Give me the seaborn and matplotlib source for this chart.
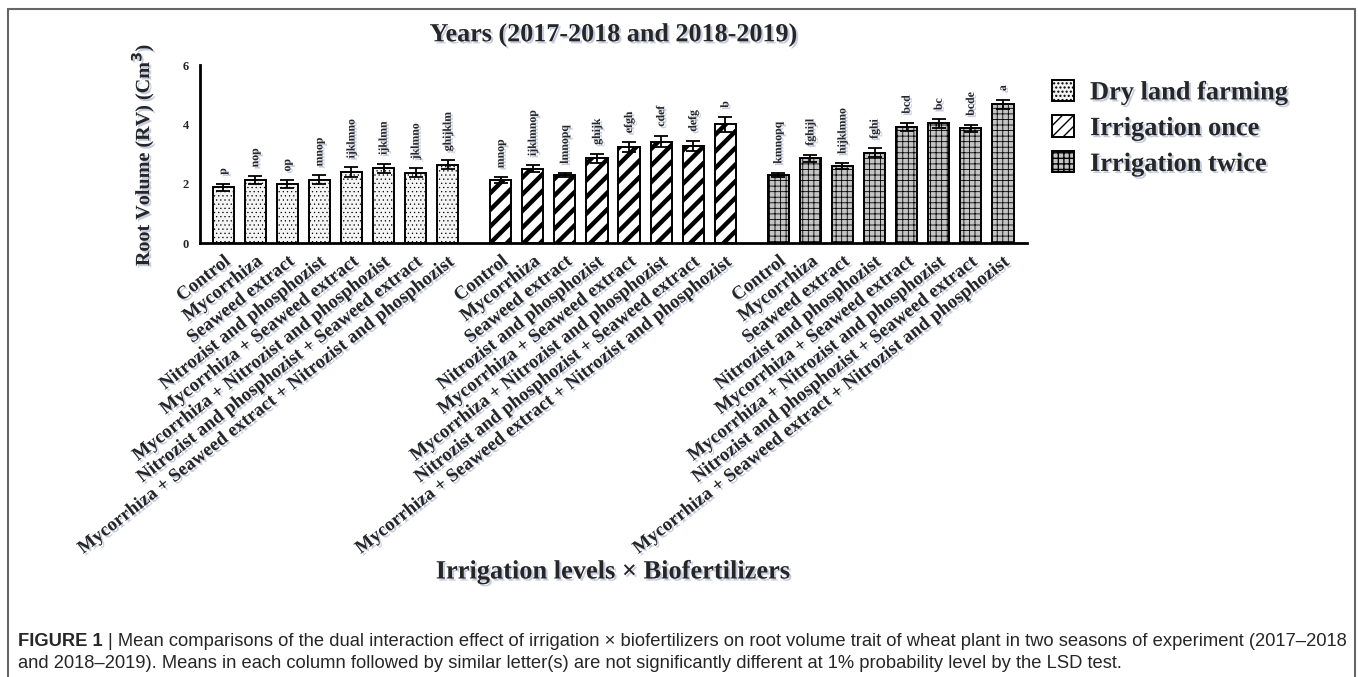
import matplotlib
matplotlib.use("Agg")
import matplotlib.pyplot as plt
import matplotlib.patheffects as pe
from matplotlib.patches import Patch
from matplotlib.lines import Line2D
from matplotlib import font_manager
import seaborn as sns
import pandas as pd

# ---- data ----
treatments = [
    "Control",
    "Mycorrhiza",
    "Seaweed extract",
    "Nitrozist and phosphozist",
    "Mycorrhiza + Seaweed extract",
    "Mycorrhiza + Nitrozist and phosphozist",
    "Nitrozist and phosphozist + Seaweed extract",
    "Mycorrhiza + Seaweed extract + Nitrozist and phosphozist",
]
groups = ["Dry land farming", "Irrigation once", "Irrigation twice"]

dry_mean = [1.88, 2.12, 1.99, 2.14, 2.39, 2.52, 2.37, 2.64]
dry_err = [0.12, 0.13, 0.12, 0.14, 0.16, 0.15, 0.15, 0.15]
dry_letters = ["p", "nop", "op", "mnop", "ijklmno", "ijklmn", "jklmno", "ghijklm"]

once_mean = [2.12, 2.51, 2.29, 2.85, 3.23, 3.42, 3.27, 4.00]
once_err = [0.10, 0.12, 0.08, 0.16, 0.17, 0.20, 0.18, 0.26]
once_letters = ["mnop", "ijklmnop", "lmnopq", "ghijk", "efgh", "cdef", "defg", "b"]

twice_mean = [2.29, 2.85, 2.60, 3.05, 3.92, 4.03, 3.86, 4.67]
twice_err = [0.08, 0.13, 0.10, 0.16, 0.14, 0.15, 0.13, 0.15]
twice_letters = ["kmnopq", "fghijl", "hijklmno", "fghi", "bcd", "bc", "bcde", "a"]

means = [dry_mean, once_mean, twice_mean]
errs = [dry_err, once_err, twice_err]
letters = [dry_letters, once_letters, twice_letters]

GAP = 0.65  # extra space between the irrigation groups

rows = []
for g, name in enumerate(groups):
    for i, t in enumerate(treatments):
        rows.append({
            "group": name,
            "treatment": t,
            "pos": g * (len(treatments) + GAP) + i,
            "value": means[g][i],
            "err": errs[g][i],
            "letter": letters[g][i],
        })
df = pd.DataFrame(rows)

styles = {
    "Dry land farming": dict(color="#f4f4f4", hatch="....", legend_hatch="....", hlw=0.4),
    "Irrigation once": dict(color="white", hatch="//", legend_hatch="///", hlw=3.2),
    "Irrigation twice": dict(color="#c4c4c4", hatch="+++", legend_hatch="+++", hlw=0.6),
}

SERIF = ["Liberation Serif", "DejaVu Serif"]
shadow = [pe.withSimplePatchShadow(offset=(1.5, -1.5), shadow_rgbFace="#7f8fbf", alpha=0.45)]

sns.set_style("white")
plt.rcParams["font.family"] = SERIF

fig = plt.figure(figsize=(13.58, 6.77), dpi=100)
ax = fig.add_axes([200 / 1358, 1 - 243 / 677, 827 / 1358, 178 / 677])

for name in groups:
    st = styles[name]
    sub = df[df["group"] == name]
    with plt.rc_context({"hatch.linewidth": st["hlw"]}):
        sns.barplot(data=sub, x="pos", y="value", native_scale=True, orient="x",
                    color=st["color"], saturation=1, width=0.66, errorbar=None,
                    edgecolor="black", linewidth=1.4, ax=ax)
        for bar in ax.containers[-1]:
            bar.set_hatch(st["hatch"])
            if hasattr(bar, "set_hatch_linewidth"):
                bar.set_hatch_linewidth(st["hlw"])

ax.errorbar(df["pos"], df["value"], yerr=df["err"], fmt="none", ecolor="black",
            elinewidth=1.3, capsize=5, capthick=1.3, zorder=5)

for _, r in df.iterrows():
    ax.text(r["pos"], r["value"] + r["err"] + 0.3, r["letter"], rotation=90,
            ha="center", va="bottom", fontsize=8.5, fontweight="bold", family=SERIF,
            path_effects=shadow)

ax.set_xlim(-0.72, df["pos"].max() + 0.75)
ax.set_ylim(0, 6)
ax.set_yticks([0, 2, 4, 6])
ax.set_yticklabels(["0", "2", "4", "6"], fontsize=9, fontweight="bold")
ax.set_xticks(df["pos"])
ax.set_xticklabels(df["treatment"], rotation=38, ha="right", va="top",
                   rotation_mode="anchor", fontsize=13.6, fontweight="bold")
for lab in ax.get_xticklabels():
    lab.set_path_effects(shadow)
ax.set_xlabel("")
ax.set_ylabel("")
ax.tick_params(axis="both", direction="out", length=5, width=1.8, color="black", pad=3)
ax.tick_params(axis="x", pad=2)
sns.despine(ax=ax)
for s in ["left", "bottom"]:
    ax.spines[s].set_linewidth(2)
    ax.spines[s].set_color("black")
ax.grid(False)

fig.text(614 / 1358, 1 - 35 / 677, "Years (2017-2018 and 2018-2019)", ha="center",
         va="center", fontsize=18.8, fontweight="bold", family=SERIF, path_effects=shadow)
fig.text(143 / 1358, 1 - 155 / 677, "Root Volume (RV) (Cm$^\\mathbf{3}$)", rotation=90,
         ha="center", va="center", fontsize=14.5, fontweight="bold", family=SERIF,
         path_effects=shadow)
fig.text(613 / 1358, 1 - 572 / 677, "Irrigation levels \u00d7 Biofertilizers", ha="center",
         va="center", fontsize=19, fontweight="bold", family=SERIF, path_effects=shadow)

handles = []
for name in groups:
    st = styles[name]
    with plt.rc_context({"hatch.linewidth": min(st["hlw"], 2.2)}):
        h = Patch(facecolor=st["color"], edgecolor="black", hatch=st["legend_hatch"],
                  linewidth=1.4, label=name)
        if hasattr(h, "set_hatch_linewidth"):
            h.set_hatch_linewidth(min(st["hlw"], 2.2))
    handles.append(h)
leg = fig.legend(handles=handles, loc="upper left", bbox_to_anchor=(1028 / 1358, 1 - 56 / 677),
                 frameon=False, prop={"family": SERIF, "weight": "bold", "size": 19},
                 handlelength=0.85, handleheight=0.85, labelspacing=0.42, handletextpad=0.6)
for t in leg.get_texts():
    t.set_path_effects(shadow)

# frame around figure and caption
for xs, ys in [([8 / 1358, 1355 / 1358], [1 - 9 / 677, 1 - 9 / 677]),
               ([8 / 1358, 8 / 1358], [0, 1 - 9 / 677]),
               ([1355 / 1358, 1355 / 1358], [0, 1 - 9 / 677])]:
    fig.add_artist(Line2D(xs, ys, color="#666666", linewidth=1.5, transform=fig.transFigure))

names = {f.name for f in font_manager.fontManager.ttflist}
if "Liberation Sans Narrow" in names:
    CAP = ["Liberation Sans Narrow", "DejaVu Sans"]
    csize = 13.2
else:
    CAP = ["Liberation Sans", "DejaVu Sans"]
    csize = 13.25

line1 = ("Mean comparisons of the dual interaction effect of irrigation \u00d7 biofertilizers "
         "on root volume trait of wheat plant in two seasons of experiment (2017\u20132018")
line2 = ("and 2018\u20132019). Means in each column followed by similar letter(s) are not "
         "significantly different at 1% probability level by the LSD test.")

x0 = 18 / 1358
t1 = fig.text(x0, 1 - 641 / 677, "FIGURE 1 ", ha="left", va="center", fontsize=csize,
              fontweight="bold", family=CAP)
renderer = fig.canvas.get_renderer()
bb = t1.get_window_extent(renderer)
x1 = bb.x1 / fig.bbox.width
t2 = fig.text(x1, 1 - 641 / 677, "| " + line1, ha="left", va="center", fontsize=csize,
              family=CAP)
fig.text(x0, 1 - 664 / 677, line2, ha="left", va="center", fontsize=csize, family=CAP)

fig.savefig("out.png", dpi=100)
